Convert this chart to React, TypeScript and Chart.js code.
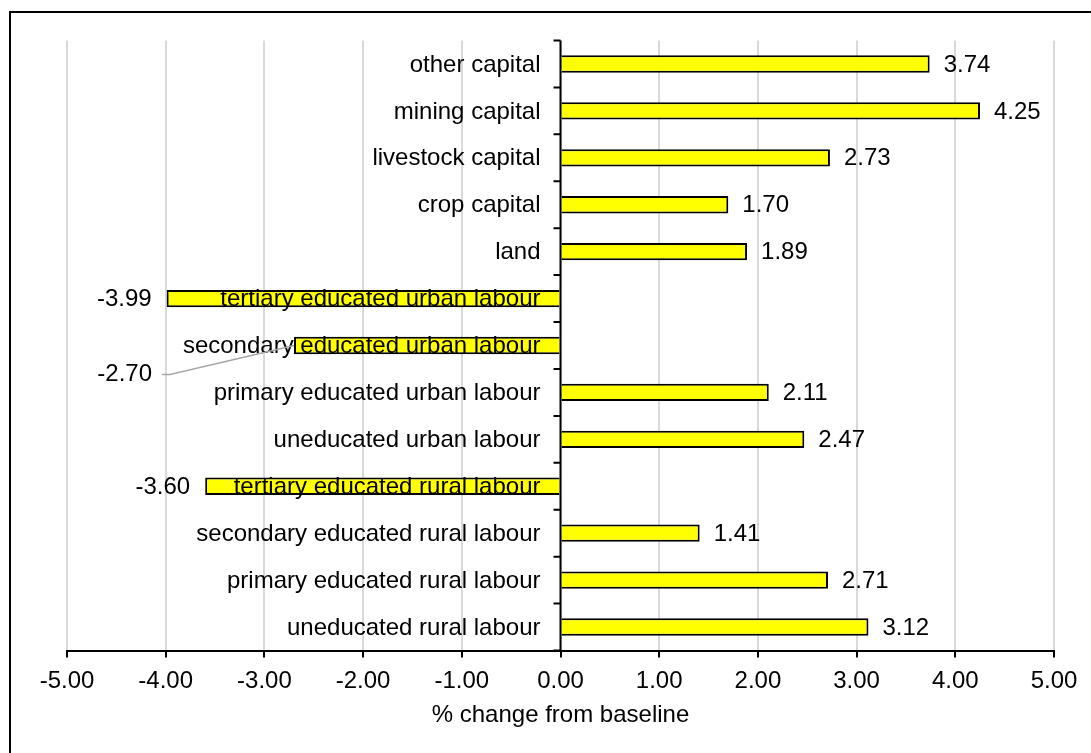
import React, { useEffect, useRef } from 'react';
import { Chart, registerables } from 'chart.js';

Chart.register(...registerables);

const categories: string[] = [
  'other capital',
  'mining capital',
  'livestock capital',
  'crop capital',
  'land',
  'tertiary educated urban labour',
  'secondary educated urban labour',
  'primary educated urban labour',
  'uneducated urban labour',
  'tertiary educated rural labour',
  'secondary educated rural labour',
  'primary educated rural labour',
  'uneducated rural labour',
];

const values: number[] = [3.74, 4.25, 2.73, 1.7, 1.89, -3.99, -2.7, 2.11, 2.47, -3.6, 1.41, 2.71, 3.12];

const xMin = -5;
const xMax = 5;
const xStep = 1;
const xTitle = '% change from baseline';

const FONT = '"Liberation Sans", Arial, Helvetica, sans-serif';

const overlayPlugin = {
  id: 'overlay',
  afterDatasetsDraw(chart: any) {
    const ctx = chart.ctx as CanvasRenderingContext2D;
    const xs = chart.scales.x;
    const ys = chart.scales.y;
    const area = chart.chartArea;
    const zero = xs.getPixelForValue(0);
    ctx.save();
    // y axis line and tick marks
    ctx.strokeStyle = '#000';
    ctx.lineWidth = 2;
    ctx.beginPath();
    ctx.moveTo(zero, area.top);
    ctx.lineTo(zero, area.bottom);
    for (let i = 0; i <= categories.length; i++) {
      const py = ys.getPixelForValue(i - 0.5);
      ctx.moveTo(zero - 7, py);
      ctx.lineTo(zero, py);
    }
    ctx.stroke();

    ctx.font = '24px ' + FONT;
    ctx.fillStyle = '#000';
    ctx.textBaseline = 'middle';
    // category labels
    ctx.textAlign = 'right';
    categories.forEach((c, i) => {
      ctx.fillText(c, zero - 20, ys.getPixelForValue(i) + 1);
    });
    // value labels
    values.forEach((v, i) => {
      const end = xs.getPixelForValue(v);
      const cy = ys.getPixelForValue(i) + 1;
      const txt = v.toFixed(2);
      if (i === 6) {
        const lx = end - 142;
        const ly = cy + 28;
        ctx.strokeStyle = '#a6a6a6';
        ctx.lineWidth = 1.5;
        ctx.beginPath();
        ctx.moveTo(lx + 10, ly);
        ctx.lineTo(lx + 18, ly);
        ctx.lineTo(end, cy - 1);
        ctx.stroke();
        ctx.textAlign = 'right';
        ctx.fillText(txt, lx, ly);
      } else if (v >= 0) {
        ctx.textAlign = 'left';
        ctx.fillText(txt, end + 14, cy);
      } else {
        ctx.textAlign = 'right';
        ctx.fillText(txt, end - 15, cy);
      }
    });
    ctx.restore();
  },
};

export default function App() {
  const ref = useRef<HTMLCanvasElement | null>(null);

  useEffect(() => {
    if (!ref.current) return;
    const chart = new Chart(ref.current, {
      type: 'bar',
      data: {
        labels: categories,
        datasets: [
          {
            data: values,
            backgroundColor: '#ffff00',
            borderColor: '#000000',
            borderWidth: 2,
            barPercentage: 0.37,
            categoryPercentage: 1,
          },
        ],
      },
      options: {
        indexAxis: 'y',
        animation: false,
        responsive: false,
        maintainAspectRatio: false,
        layout: { padding: { left: 67, right: 37, top: 40.5, bottom: 0 } },
        plugins: {
          legend: { display: false },
          tooltip: { enabled: false },
        },
        scales: {
          x: {
            type: 'linear',
            position: 'bottom',
            min: xMin,
            max: xMax,
            afterFit(scale: any) {
              scale.height = 102.5;
            },
            ticks: {
              stepSize: xStep,
              color: '#000',
              font: { family: FONT, size: 24 },
              padding: 9,
              callback: (v: any) => Number(v).toFixed(2),
            },
            grid: {
              color: '#d9d9d9',
              lineWidth: 2,
              tickColor: '#000',
              tickLength: 7,
              tickWidth: 2,
            },
            border: { color: '#000', width: 2 },
            title: {
              display: true,
              text: xTitle,
              color: '#000',
              font: { family: FONT, size: 24 },
              padding: { top: 0, bottom: 23.5 },
            },
          },
          y: {
            type: 'category',
            display: false,
            offset: true,
          },
        },
      },
      plugins: [overlayPlugin],
    });
    return () => chart.destroy();
  }, []);

  return (
    <div
      style={{
        position: 'absolute',
        left: 0,
        top: 0,
        width: 1091,
        height: 753,
        overflow: 'hidden',
        background: '#fff',
      }}
    >
      <div
        style={{
          position: 'absolute',
          left: 9,
          top: 11,
          width: 1200,
          height: 800,
          borderTop: '2px solid #000',
          borderLeft: '2px solid #000',
        }}
      />
      <canvas
        ref={ref}
        width={1091}
        height={753}
        style={{ position: 'absolute', left: 0, top: 0, width: 1091, height: 753 }}
      />
    </div>
  );
}
